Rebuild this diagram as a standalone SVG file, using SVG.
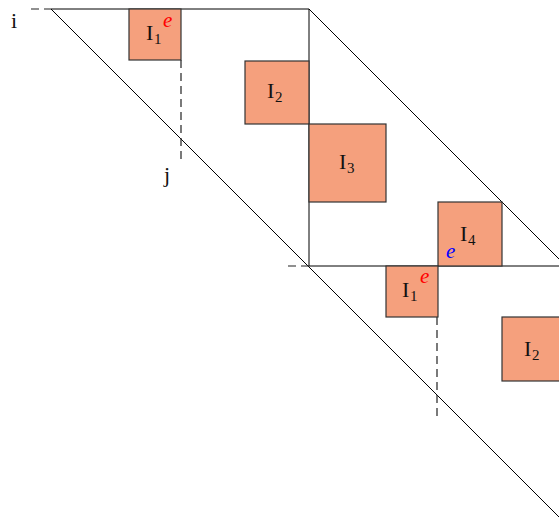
<svg xmlns="http://www.w3.org/2000/svg" width="559" height="523" viewBox="0 0 559 523">
<style>
.ln{stroke:#000;stroke-width:1;fill:none}
.dash{stroke:#222;stroke-width:1.2;fill:none;stroke-dasharray:8,5}
.box{fill:#F5A07D;stroke:#333;stroke-width:1.2}
.t{font-family:"Liberation Serif","DejaVu Serif",serif;font-size:22px;fill:#111}
.s{font-family:"Liberation Serif","DejaVu Serif",serif;font-size:15px;fill:#111}
.e{font-family:"Liberation Serif","DejaVu Serif",serif;font-size:21px;font-style:italic}
</style>
<rect width="559" height="523" fill="#fff"/>
<g id="connectors">
<line class="dash" x1="31" y1="9" x2="51" y2="9"/>
<line class="ln" x1="51" y1="9" x2="309" y2="9"/>
<line class="ln" x1="51" y1="9" x2="559" y2="517"/>
<line class="ln" x1="309" y1="9" x2="559" y2="259"/>
<line class="ln" x1="309" y1="9" x2="309" y2="266"/>
<line class="dash" x1="288" y1="266" x2="309" y2="266"/>
<line class="ln" x1="309" y1="266" x2="559" y2="266"/>
<line class="dash" x1="181" y1="60" x2="181" y2="162"/>
<line class="dash" x1="437" y1="317" x2="437" y2="418"/>
</g>
<g id="label-i"><text class="t" x="11" y="28">i</text></g>
<g id="label-j"><text class="t" x="164" y="182">j</text></g>
<g id="I1a">
<rect class="box" x="129" y="9" width="52" height="51"/>
<text class="t" x="146" y="40">I</text><text class="s" x="154" y="44">1</text>
<text class="e" x="163" y="27" fill="#f00">e</text>
</g>
<g id="I2a">
<rect class="box" x="245" y="61" width="64" height="63"/>
<text class="t" x="267" y="98">I</text><text class="s" x="275" y="102">2</text>
</g>
<g id="I3">
<rect class="box" x="309" y="124" width="77" height="78"/>
<text class="t" x="339" y="169">I</text><text class="s" x="347" y="173">3</text>
</g>
<g id="I4">
<rect class="box" x="438" y="202" width="64" height="64"/>
<text class="t" x="460" y="241">I</text><text class="s" x="468" y="245">4</text>
<text class="e" x="446" y="258" fill="#00f">e</text>
</g>
<g id="I1b">
<rect class="box" x="386" y="266" width="52" height="51"/>
<text class="t" x="402" y="297">I</text><text class="s" x="410" y="301">1</text>
<text class="e" x="420" y="283" fill="#f00">e</text>
</g>
<g id="I2b">
<rect class="box" x="502" y="317" width="60" height="64"/>
<text class="t" x="524" y="356">I</text><text class="s" x="532" y="360">2</text>
</g>
</svg>
